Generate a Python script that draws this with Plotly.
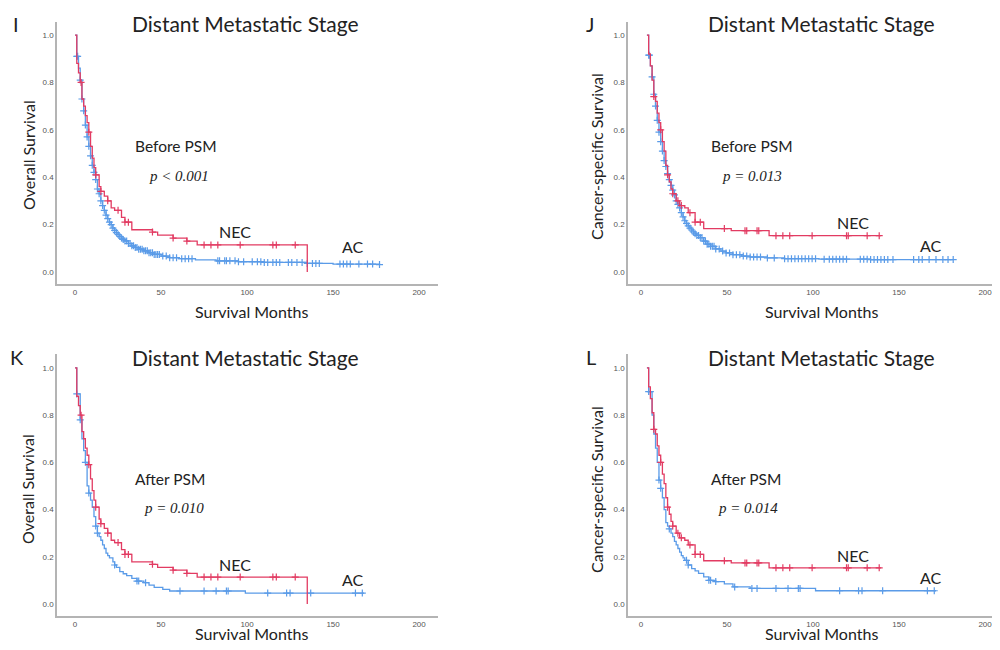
import numpy as np
import plotly.graph_objects as go

# ---------------- data ----------------
# NEC group (same NEC patients before and after PSM)
nec_os_t = [0, 1, 2, 3, 4, 5, 6, 7, 8, 9, 10, 11, 12, 14, 15, 17, 19, 21, 23, 27, 29, 33, 45, 48, 57, 65, 71, 135]
nec_os_s = [1.0, 0.88, 0.84, 0.80, 0.73, 0.70, 0.66, 0.63, 0.59, 0.53, 0.48, 0.44, 0.41, 0.36, 0.34, 0.32, 0.30, 0.27,
            0.26, 0.23, 0.21, 0.178, 0.168, 0.155, 0.143, 0.130, 0.114, 0.0]
nec_os_cens = [3.5, 8, 12, 15, 19, 25, 29, 31, 45, 57, 65, 75, 79, 83, 96, 115, 117, 128]

nec_css_t = [0, 1, 2, 3, 4, 5, 6, 7, 8, 9, 10, 11, 12, 13, 14, 15, 17, 19, 22, 24, 28, 33, 49, 71, 136]
nec_css_s = [1.0, 0.92, 0.87, 0.81, 0.74, 0.72, 0.67, 0.63, 0.60, 0.55, 0.51, 0.45, 0.41, 0.38, 0.35, 0.33, 0.30,
             0.28, 0.27, 0.25, 0.21, 0.183, 0.174, 0.153, 0.153]
nec_css_cens = [4, 8, 12, 15, 18, 20, 25, 28, 31, 45, 57, 58, 64, 65, 75, 79, 83, 96, 116, 117, 128, 135]

# AC group, overall survival, before PSM
ac_os_pre_t = [0, 1, 2, 3, 4, 5, 6, 7, 8, 9, 10, 11, 12, 13, 14, 15, 16, 17, 18, 19, 20, 21, 22, 23, 24, 25, 26, 27,
               28, 29, 31, 33, 35, 37, 40, 43, 46, 50, 55, 60, 70, 82, 95, 110, 135, 150, 177]
ac_os_pre_s = [1.0, 0.91, 0.86, 0.81, 0.73, 0.68, 0.62, 0.57, 0.53, 0.49, 0.45, 0.42, 0.39, 0.35, 0.33, 0.30, 0.28,
               0.26, 0.24, 0.225, 0.21, 0.20, 0.185, 0.175, 0.166, 0.158, 0.150, 0.143, 0.137, 0.131, 0.120, 0.110,
               0.103, 0.096, 0.089, 0.081, 0.074, 0.067, 0.060, 0.056, 0.051, 0.047, 0.043, 0.040, 0.036, 0.033, 0.031]
ac_os_pre_cens = [1, 1.5, 3, 4, 5, 6, 7, 8, 9, 10, 11, 12, 13, 14, 15, 16, 17, 18, 19, 20, 21, 22, 23, 24, 25, 26, 27,
                  28, 29, 30, 31, 32, 33, 34, 35, 36, 37, 38, 39, 40, 41, 42, 43, 44, 45, 46, 47, 48, 49, 51, 53, 55,
                  57, 59, 62, 64, 66, 68, 83, 84, 87, 88, 90, 93, 95, 98, 103, 106, 108, 110, 112, 115, 117, 119, 124,
                  126, 129, 132, 135, 138, 140, 142, 154, 156, 158, 160, 165, 170, 173, 177]

# AC group, cancer-specific survival, before PSM
ac_css_pre_t = [0, 1, 2, 3, 4, 5, 6, 7, 8, 9, 10, 11, 12, 13, 14, 15, 16, 17, 18, 19, 20, 21, 22, 23, 24, 25, 26, 27,
                28, 29, 31, 33, 35, 37, 40, 43, 46, 50, 55, 60, 70, 80, 100, 130, 178]
ac_css_pre_s = [1.0, 0.915, 0.87, 0.823, 0.75, 0.70, 0.64, 0.59, 0.55, 0.51, 0.47, 0.445, 0.415, 0.39, 0.365, 0.345,
                0.325, 0.30, 0.285, 0.27, 0.25, 0.232, 0.216, 0.205, 0.194, 0.185, 0.177, 0.169, 0.161, 0.154, 0.145,
                0.130, 0.117, 0.108, 0.097, 0.088, 0.080, 0.073, 0.067, 0.063, 0.059, 0.056, 0.054, 0.052, 0.052]
ac_css_pre_cens = [1, 1.5, 3, 4, 5, 6, 7, 8, 9, 10, 11, 12, 13, 14, 15, 16, 17, 18, 19, 20, 21, 22, 23, 24, 25, 26,
                   27, 28, 29, 30, 31, 32, 33, 34, 35, 36, 37, 38, 39, 40, 42, 44, 46, 48, 50, 52, 54, 56, 58, 60, 62,
                   64, 66, 70, 74, 80, 82, 84, 86, 88, 90, 92, 94, 96, 98, 103, 106, 108, 110, 112, 114, 116, 124,
                   126, 128, 130, 132, 134, 136, 138, 140, 143, 155, 158, 160, 164, 168, 172, 175, 178]

# AC group, overall survival, after PSM
ac_os_post_t = [0, 1, 3, 4, 5, 6, 7, 8, 9, 10, 11, 12, 13, 14, 15, 16, 17, 18, 19, 20, 22, 23, 24, 26, 28, 30, 33, 36,
                40, 43, 46, 51, 55, 99, 168]
ac_os_post_s = [1.0, 0.89, 0.78, 0.70, 0.65, 0.60, 0.50, 0.47, 0.44, 0.41, 0.37, 0.33, 0.30, 0.285, 0.27, 0.25, 0.235,
                0.215, 0.205, 0.195, 0.178, 0.165, 0.155, 0.137, 0.128, 0.120, 0.108, 0.097, 0.090, 0.080, 0.070,
                0.062, 0.055, 0.046, 0.046]
ac_os_post_cens = [1, 3, 6, 8, 12, 13, 23, 36, 37, 41, 61, 75, 82, 88, 89, 112, 123, 125, 137, 163, 167]

# AC group, cancer-specific survival, after PSM
ac_css_post_t = [0, 1, 3, 4, 5, 6, 7, 8, 9, 10, 11, 12, 13, 14, 15, 16, 17, 18, 19, 20, 21, 22, 24, 26, 28, 30, 33,
                 36, 40, 45, 50, 60, 98, 168]
ac_css_post_s = [1.0, 0.90, 0.80, 0.72, 0.66, 0.60, 0.525, 0.49, 0.45, 0.40, 0.345, 0.33, 0.318, 0.30, 0.285, 0.265,
                 0.25, 0.235, 0.22, 0.205, 0.195, 0.185, 0.165, 0.150, 0.140, 0.130, 0.115, 0.100, 0.095, 0.085,
                 0.072, 0.066, 0.056, 0.056]
ac_css_post_cens = [1, 2, 7, 8, 13, 23, 24, 36, 37, 40, 51, 61, 64, 75, 82, 88, 89, 112, 123, 125, 137, 163, 167]

panel_letters = ["I", "J", "K", "L"]
panel_title = "Distant Metastatic Stage"
y_titles = ["Overall Survival", "Cancer-specific Survival", "Overall Survival", "Cancer-specific Survival"]
x_title = "Survival Months"
psm_labels = ["Before PSM", "Before PSM", "After PSM", "After PSM"]
p_labels = ["p < 0.001", "p = 0.013", "p = 0.010", "p = 0.014"]
group_labels = ["NEC", "AC"]
x_ticks = [0, 50, 100, 150, 200]
y_ticks = [0.0, 0.2, 0.4, 0.6, 0.8, 1.0]

panels = [
    (nec_os_t, nec_os_s, nec_os_cens, ac_os_pre_t, ac_os_pre_s, ac_os_pre_cens),
    (nec_css_t, nec_css_s, nec_css_cens, ac_css_pre_t, ac_css_pre_s, ac_css_pre_cens),
    (nec_os_t, nec_os_s, nec_os_cens, ac_os_post_t, ac_os_post_s, ac_os_post_cens),
    (nec_css_t, nec_css_s, nec_css_cens, ac_css_post_t, ac_css_post_s, ac_css_post_cens),
]

# ---------------- style ----------------
# The page body has an 8px default margin on every side, so the figure sits at
# (8, 8) on screen and must stay inside 984x634 to avoid scrollbars; all screen
# positions below are shifted by OFF.
OFF = 8
W, H = 1000 - 2 * OFF, 650 - 2 * OFF
RED = "#e23b62"
BLUE = "#5a9be8"
SANS = "Lato, 'Open Sans', sans-serif"
SERIF = "'Liberation Serif', 'DejaVu Serif', serif"
TICKFONT = dict(size=8, color="#555555", family="Liberation Sans, Arial")

# panel geometry in screen pixels: (x_left, x_right, y_top, y_bottom), plus axis ranges
geom = [
    dict(x0=57, x1=438, y0=22, y1=284, xr=[-10.5, 211], yr=[-0.051, 1.055], shift=0),
    dict(x0=628, x1=1000, y0=22, y1=284, xr=[-11.0, 205.2], yr=[-0.051, 1.055], shift=-6),
    dict(x0=57, x1=438, y0=354, y1=616, xr=[-10.5, 211], yr=[-0.051, 1.059], shift=0),
    dict(x0=628, x1=1000, y0=354, y1=616, xr=[-11.0, 205.2], yr=[-0.051, 1.059], shift=-6),
]

# text positions in screen pixels
letter_pos = [(16, 24), (590, 24), (17, 357), (591, 357)]
title_pos = [(245, 24), (821, 24), (245, 357), (821, 357)]
ytitle_pos = [(28, 155), (596, 157), (28, 489), (596, 490)]
xtitle_pos = [(251, 311), (821, 311), (251, 633), (821, 633)]
psm_pos = [(133, 146), (709, 146), (133, 479), (709, 479)]
p_pos = [(147, 176), (720, 176), (142, 508), (716, 508)]
nec_pos = [(235, 231), (853, 222), (235, 564), (853, 555)]
ac_pos = [(353, 246), (931, 245), (353, 579), (931, 577)]


def step_value(times, surv, t):
    idx = np.searchsorted(np.asarray(times), t, side="right") - 1
    return np.asarray(surv)[np.clip(idx, 0, len(surv) - 1)]


def fx(x):
    return min(max((x - OFF) / W, 0.0), 1.0)


def fy(y):
    return min(max(1 - (y - OFF) / H, 0.0), 1.0)


fig = go.Figure()
layout = {}
annotations = []

for i, (nt, ns, nc, at, as_, ac) in enumerate(panels):
    k = "" if i == 0 else str(i + 1)
    xa, ya = "x" + k, "y" + k
    g = geom[i]
    # AC (blue) first, NEC (red) over it
    for t, s, c, col in [(at, as_, ac, BLUE), (nt, ns, nc, RED)]:
        fig.add_trace(go.Scatter(x=t, y=s, mode="lines", line=dict(color=col, width=1.3, shape="hv"),
                                 xaxis=xa, yaxis=ya, showlegend=False, hoverinfo="skip", cliponaxis=False))
        cy = step_value(t, s, np.asarray(c))
        fig.add_trace(go.Scatter(x=c, y=cy, mode="markers",
                                 marker=dict(symbol="cross-thin", size=5, line=dict(color=col, width=1.2)),
                                 xaxis=xa, yaxis=ya, showlegend=False, hoverinfo="skip", cliponaxis=False))
    xr = list(g["xr"])
    right = min(g["x1"], W + OFF)
    if right < g["x1"]:  # axis runs off the figure edge: trim range to what is visible
        xr[1] = xr[0] + (xr[1] - xr[0]) * (right - g["x0"]) / (g["x1"] - g["x0"])
    layout["xaxis" + k] = dict(domain=[fx(g["x0"]), fx(right)], range=xr, anchor=ya,
                               tickvals=x_ticks, showline=True, linecolor="#b4b4b4", linewidth=1.6,
                               showgrid=False, zeroline=False, ticks="", ticklen=0, automargin=False,
                               ticklabeloverflow="allow", ticklabelshift=g["shift"], tickfont=TICKFONT)
    layout["yaxis" + k] = dict(domain=[fy(g["y1"]), fy(g["y0"])], range=g["yr"], anchor=xa,
                               tickvals=y_ticks, tickformat=".1f", showline=True, linecolor="#b4b4b4",
                               linewidth=1.6, showgrid=False, zeroline=False, ticks="", ticklen=0,
                               automargin=False, ticklabeloverflow="allow", tickfont=TICKFONT)

    def ann(pos, text, size, family=SANS, xanchor="center", angle=0, color="#222222"):
        annotations.append(dict(x=fx(pos[0]), y=fy(pos[1]), xref="paper", yref="paper", text=text,
                                showarrow=False, xanchor=xanchor, yanchor="middle", textangle=angle,
                                font=dict(size=size, family=family, color=color)))

    ann(letter_pos[i], panel_letters[i], 20)
    ann(title_pos[i], panel_title, 21)
    ann(ytitle_pos[i], y_titles[i], 16, angle=-90)
    ann(xtitle_pos[i], x_title, 16)
    ann(psm_pos[i], psm_labels[i], 15.5, xanchor="left")
    ann(p_pos[i], "<i>" + p_labels[i] + "</i>", 15, family=SERIF, xanchor="left")
    ann(nec_pos[i], group_labels[0], 16)
    ann(ac_pos[i], group_labels[1], 16)

fig.update_layout(width=W, height=H, margin=dict(l=0, r=0, t=0, b=0, autoexpand=False), plot_bgcolor="white",
                  paper_bgcolor="white", annotations=annotations, **layout)

fig.write_html("out.html")
